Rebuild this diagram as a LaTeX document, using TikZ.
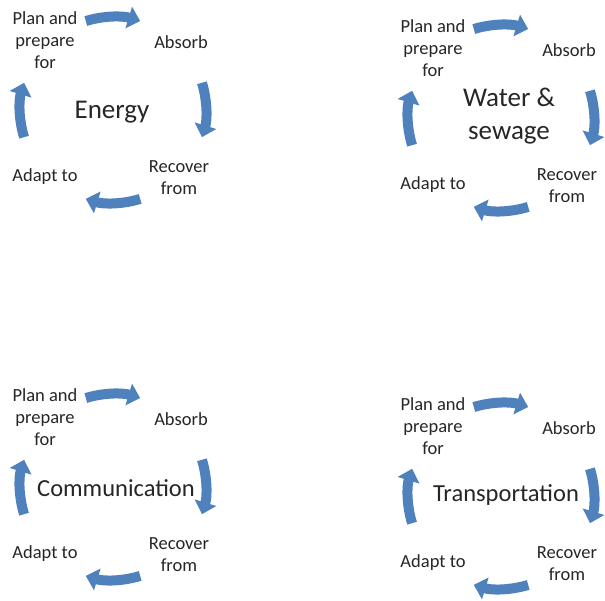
\documentclass[tikz,border=0pt]{standalone}
\usepackage{fontspec}
\setmainfont{Carlito}
\usetikzlibrary{arrows.meta}
\definecolor{sablue}{HTML}{4F81BD}
\definecolor{txt}{HTML}{262626}
\tikzset{
  lbl/.style={align=center,inner sep=0pt,text=txt,font=\fontsize{18.5}{22}\selectfont},
  hub/.style={align=center,inner sep=0pt,text=txt},
  cycarrow/.style={draw=sablue,line width=10pt,-{Triangle[width=22pt,length=12pt]}},
  pics/cyc/.style={code={
    \node[lbl] (-plan) at (-68,70) {Plan and\\prepare\\for};
    \node[lbl] (-absorb) at (68,68) {Absorb};
    \node[lbl] (-recover) at (66,-67.5) {Recover\\from};
    \node[lbl] (-adapt) at (-68,-67) {Adapt to};
    \draw[cycarrow] (107:93pt) arc[start angle=107,end angle=73,radius=93pt];
    \draw[cycarrow] (17:93pt) arc[start angle=17,end angle=-17,radius=93pt];
    \draw[cycarrow] (-73:93pt) arc[start angle=-73,end angle=-107,radius=93pt];
    \draw[cycarrow] (197:93pt) arc[start angle=197,end angle=163,radius=93pt];
  }}
}
\begin{document}
\begin{tikzpicture}[x=1pt,y=1pt]
\useasboundingbox[fill=white] (0,0) rectangle (605,601);
\pic (e) at (113,491) {cyc};
\pic (w) at (501,483) {cyc};
\pic (c) at (113,114) {cyc};
\pic (t) at (501,105) {cyc};
\node[hub,font=\fontsize{27}{33}\selectfont] (energy) at (112,489) {Energy};
\node[hub,font=\fontsize{27}{33}\selectfont] (water) at (509,484.5) {Water \&\\sewage};
\node[hub,font=\fontsize{24.5}{30}\selectfont] (comm) at (116,113) {Communication};
\node[hub,font=\fontsize{24.5}{30}\selectfont] (trans) at (506,106) {Transportation};
\end{tikzpicture}
\end{document}
